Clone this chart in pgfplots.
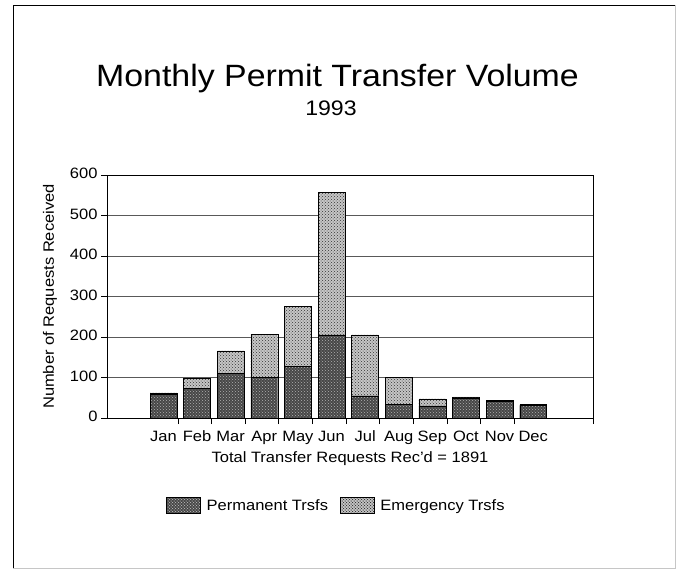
\documentclass[border=0pt]{standalone}
\usepackage{fontspec}
\setmainfont{Liberation Sans}[FakeStretch=1.1]
\usepackage{pgfplots}
\pgfplotsset{compat=1.18}
\usetikzlibrary{patterns}

\pgfplotstableread{
m perm emerg
0 58 4
1 74 24
2 110 56
3 100 106
4 128 148
5 205 352
6 55 150
7 33 67
8 30 17
9 50 2
10 41 2
11 31 2
}\datatable

\begin{document}
\begin{tikzpicture}[x=1pt,y=1pt]
\useasboundingbox (0,0) rectangle (676,-573);
\draw[gray!45, line width=0.8pt] (675,-5) -- (675,-568) -- (13,-568);
\draw[black, line width=1pt] (13,-568) -- (13,-5) -- (675,-5);
\node[anchor=base, font=\fontsize{30.8}{36}\selectfont] at (337.5,-86.7) {Monthly Permit Transfer Volume};
\node[anchor=base, font=\fontsize{21}{25}\selectfont] at (331,-115) {1993};
\begin{axis}[
  at={(107pt,-418pt)}, anchor=south west,
  scale only axis, width=486pt, height=243pt,
  ybar stacked, bar width=0.8,
  xmin=-1.68, xmax=12.78, ymin=0, ymax=600,
  xtick={0,...,11},
  xticklabels={Jan,Feb,Mar,Apr,May,Jun,Jul,Aug,Sep,Oct,Nov,Dec},
  major x tick style={draw=none},
  minor xtick={0.43,1.43,2.43,3.43,4.43,5.43,6.43,7.43,8.43,9.43,10.43,12.78},
  minor tick length=6pt,
  major tick length=6pt,
  ytick={0,100,...,600},
  tick align=outside, tick pos=left,
  tick style={black, line width=0.6pt},
  ymajorgrids, grid style={black!65, line width=0.6pt},
  axis line style={black, line width=0.8pt},
  /pgf/number format/assume math mode=true,
  typeset ticklabels with strut,
  ticklabel style={font=\fontsize{15}{18}\selectfont},
  xticklabel style={yshift=-1pt},
  xlabel={Total Transfer Requests Rec'd = 1891},
  xlabel style={font=\fontsize{15}{18}\selectfont, yshift=2pt},
  ylabel={Number of Requests Received},
  ylabel style={font=\fontsize{15}{18}\selectfont, yshift=6pt},
  legend columns=2,
  legend style={at={(0.472,-0.36)}, anchor=center, draw=none, fill=none,
    font=\fontsize{15}{18}\selectfont,
    /tikz/every odd column/.append style={column sep=4pt},
    /tikz/every even column/.append style={column sep=10pt}},
]
\addplot[draw=black, fill=black!72, postaction={pattern=crosshatch dots, pattern color=white!70!black},
  legend image code/.code={\draw[draw=black, fill=black!72, postaction={pattern=crosshatch dots, pattern color=white!70!black}] (0pt,-8pt) rectangle (34pt,8pt);}]
  table[x=m, y=perm] {\datatable};
\addplot[draw=black, fill=gray!45, postaction={pattern=crosshatch dots, pattern color=black!80},
  legend image code/.code={\draw[draw=black, fill=gray!45, postaction={pattern=crosshatch dots, pattern color=black!80}] (0pt,-8pt) rectangle (34pt,8pt);}]
  table[x=m, y=emerg] {\datatable};
\legend{Permanent Trsfs, Emergency Trsfs}
\end{axis}
\end{tikzpicture}
\end{document}
